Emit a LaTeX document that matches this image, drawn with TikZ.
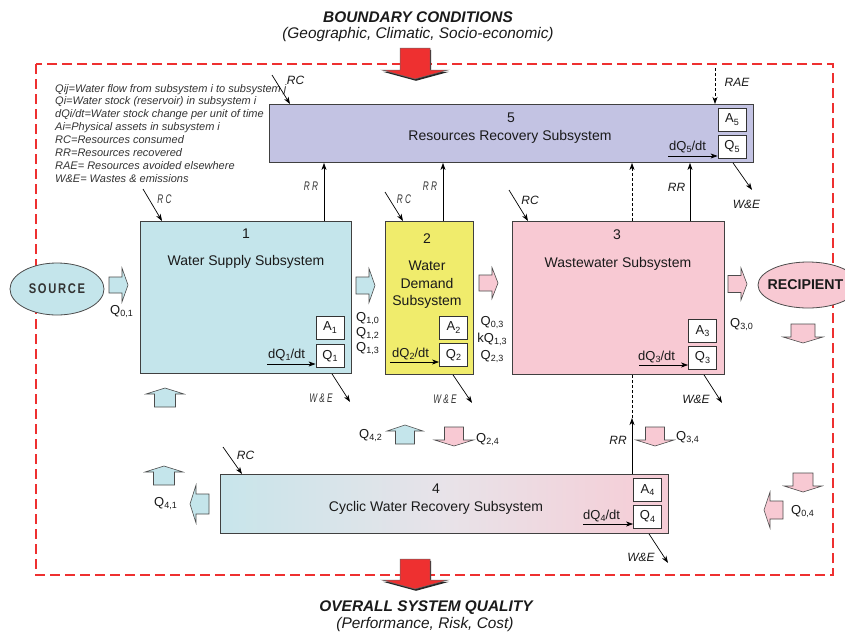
\documentclass[tikz,border=0pt]{standalone}
\usepackage{fontspec}
\setmainfont{Liberation Sans}
\setsansfont{Liberation Sans}
\newfontfamily\srcfont{Liberation Sans}[FakeStretch=0.8,LetterSpace=12]
\newfontfamily\condfont{Liberation Sans}[FakeStretch=0.66]
\usetikzlibrary{arrows.meta,calc,shapes.geometric}
\definecolor{cblue}{HTML}{C4E5EB}
\definecolor{cpink}{HTML}{F8C9D3}
\definecolor{cyel}{HTML}{F0EC6C}
\definecolor{clav}{HTML}{C3C3E3}
\definecolor{cred}{HTML}{EE3030}
\definecolor{ctxt}{HTML}{1A1A1A}
\definecolor{cleg}{HTML}{333333}
\colorlet{cmid}{cblue!50!cpink!70!white}
\pgfdeclarehorizontalshading{bluepink}{100bp}{color(0bp)=(cblue); color(22bp)=(cblue); color(50bp)=(cmid); color(78bp)=(cpink); color(100bp)=(cpink)}
\newcommand\blkarr[6]{\draw[blkst, fill=#4, shift={(#1,#2)}, rotate=#3] (0,-#5)--(13,-#5)--(13,-#6)--(19,0)--(13,#6)--(13,#5)--(0,#5)--cycle;}
\newcommand\sbs[1]{\raisebox{-0.35ex}{\fontsize{9}{10}\selectfont #1}}
\tikzset{
  box/.style={draw=black!75, line width=0.9pt, anchor=north west, inner sep=0pt},
  sbox/.style={draw=black!80, fill=white, line width=0.8pt, minimum width=28pt, minimum height=23pt, inner sep=0pt, font=\fontsize{13}{15}\selectfont, text=ctxt},
  arr/.style={draw=black, line width=0.7pt, -{Stealth[length=7pt,width=5pt,inset=2pt]}},
  dsh/.style={dash pattern=on 3pt off 2pt},
  lbl/.style={font=\fontsize{12}{14}\selectfont\itshape, text=ctxt, inner sep=0pt, anchor=base},
  clbl/.style={font=\condfont\fontsize{12.5}{14}\selectfont\itshape, text=cleg, inner sep=0pt, anchor=base},
  ttl/.style={font=\fontsize{14}{16}\selectfont, text=ctxt, inner sep=0pt, anchor=base},
  qlbl/.style={font=\fontsize{13}{15}\selectfont, text=ctxt, inner sep=0pt, anchor=base west},
  dlbl/.style={font=\fontsize{13}{15}\selectfont, text=ctxt, inner sep=0pt, anchor=base west},
  leg/.style={font=\fontsize{11}{13}\selectfont\itshape, text=cleg, inner sep=0pt, anchor=base west},
  head/.style={font=\fontsize{15.4}{18}\selectfont\itshape, text=ctxt, inner sep=0pt, anchor=base},
  blkst/.style={draw=black!70, line width=0.6pt},
  redarr/.style={fill=cred, draw=black!60, line width=0.5pt},
}
\begin{document}
\begin{tikzpicture}[x=1pt,y=-1pt]
\useasboundingbox (0,0) rectangle (845,635);
\fill[white] (0,0) rectangle (845,635);

% boundary
\draw[cred, line width=2.5pt, dash pattern=on 10pt off 5pt] (36,64) rectangle (833,575);

% red arrows
\fill[black!85, shift={(1,1.8)}] (400,48)--(430,48)--(430,70)--(448,70)--(415,79)--(382,70)--(400,70)--cycle;
\draw[redarr] (400,48)--(430,48)--(430,70)--(448,70)--(415,79)--(382,70)--(400,70)--cycle;
\fill[black!85, shift={(1,1.8)}] (400,559)--(430,559)--(430,580)--(448,580)--(415,589)--(382,580)--(400,580)--cycle;
\draw[redarr] (400,559)--(430,559)--(430,580)--(448,580)--(415,589)--(382,580)--(400,580)--cycle;

% titles
\node[head, font=\fontsize{15.4}{18}\selectfont\bfseries\itshape] (tbc) at (418,22) {BOUNDARY CONDITIONS};
\node[head] (tbc2) at (418,38.5) {(Geographic, Climatic, Socio-economic)};
\node[head, font=\fontsize{15.4}{18}\selectfont\bfseries\itshape] (tos) at (426,611) {OVERALL SYSTEM QUALITY};
\node[head] (tos2) at (425,628) {(Performance, Risk, Cost)};

% legend
\node[leg] (l1) at (55,92) {Qij=Water flow from subsystem i to subsystem j};
\node[leg] (l2) at (55,104.9) {Qi=Water stock (reservoir) in subsystem i};
\node[leg] (l3) at (55,117.8) {dQi/dt=Water stock change per unit of time};
\node[leg] (l4) at (55,130.7) {Ai=Physical assets in subsystem i};
\node[leg] (l5) at (55,143.6) {RC=Resources consumed};
\node[leg] (l6) at (55,156.5) {RR=Resources recovered};
\node[leg] (l7) at (55,169.4) {RAE= Resources avoided elsewhere};
\node[leg] (l8) at (55,182.3) {W\&E= Wastes \& emissions};

% main boxes
\node[box, fill=clav, minimum width=484pt, minimum height=58pt] (b5) at (269,104) {};
\node[box, fill=cblue, minimum width=211pt, minimum height=152pt] (b1) at (140,221) {};
\node[box, fill=cyel, minimum width=88pt, minimum height=153pt] (b2) at (385,221) {};
\node[box, fill=cpink, minimum width=212pt, minimum height=153pt] (b3) at (512,221) {};
\node[box, shade, shading=bluepink, minimum width=448pt, minimum height=59pt] (b4) at (220,474) {};

% box texts
\node[ttl] (n5) at (511,122) {5};
\node[ttl] (t5) at (510,140) {Resources Recovery Subsystem};
\node[ttl] (n1) at (246,238) {1};
\node[ttl] (t1) at (246,265) {Water Supply Subsystem};
\node[ttl] (n2) at (427,243) {2};
\node[ttl] (t2a) at (427,270) {Water};
\node[ttl] (t2b) at (427,288) {Demand};
\node[ttl] (t2c) at (427,305) {Subsystem};
\node[ttl] (n3) at (617,239) {3};
\node[ttl] (t3) at (618,267) {Wastewater Subsystem};
\node[ttl] (n4) at (436,493) {4};
\node[ttl] (t4) at (436,511) {Cyclic Water Recovery Subsystem};

% small boxes
\node[sbox] (A5) at (732,119.5) {A\sbs{5}};
\node[sbox] (Q5) at (732,146.5) {Q\sbs{5}};
\node[sbox] (A1) at (330,327.5) {A\sbs{1}};
\node[sbox] (Q1) at (330,356) {Q\sbs{1}};
\node[sbox] (A2) at (453.5,327.5) {A\sbs{2}};
\node[sbox] (Q2) at (453.5,355) {Q\sbs{2}};
\node[sbox] (A3) at (702.5,331) {A\sbs{3}};
\node[sbox] (Q3) at (702.5,357.5) {Q\sbs{3}};
\node[sbox] (A4) at (647.5,490) {A\sbs{4}};
\node[sbox] (Q4) at (647.5,516.5) {Q\sbs{4}};

% dQ/dt labels and arrows
\node[dlbl] (dq5) at (669,150) {dQ\sbs{5}/dt};
\node[dlbl] (dq1) at (268,358) {dQ\sbs{1}/dt};
\node[dlbl] (dq2) at (392,357) {dQ\sbs{2}/dt};
\node[dlbl] (dq3) at (638,360) {dQ\sbs{3}/dt};
\node[dlbl] (dq4) at (583,519) {dQ\sbs{4}/dt};
\coordinate (d5) at (668,156);
\coordinate (d1) at (267,364);
\coordinate (d2) at (390,362);
\coordinate (d3) at (639,365);
\coordinate (d4) at (583,524);
\draw[arr] (d5) -- (d5 -| Q5.west);
\draw[arr] (d1) -- (d1 -| Q1.west);
\draw[arr] (d2) -- (d2 -| Q2.west);
\draw[arr] (d3) -- (d3 -| Q3.west);
\draw[arr] (d4) -- (d4 -| Q4.west);

% source / recipient
\node[ellipse, draw=black!70, line width=0.8pt, fill=cblue, minimum width=94pt, minimum height=52pt, inner sep=0pt, font=\srcfont\bfseries\fontsize{14}{16}\selectfont, text=cleg] (src) at (57,289) {SOURCE};
\node[ellipse, draw=black!70, line width=0.8pt, fill=cpink, minimum width=100pt, minimum height=46pt, inner sep=0pt] (rcp) at (808,285) {};
\node[font=\bfseries\fontsize{14.2}{17}\selectfont, text=ctxt, inner sep=0pt] (rcpt) at (805.5,285) {RECIPIENT};

% block arrows
\blkarr{109}{285}{0}{cblue}{8}{17}
\blkarr{356}{285.5}{0}{cblue}{8.5}{17}
\blkarr{479}{283}{0}{cpink}{8}{15.5}
\blkarr{728}{284}{0}{cpink}{8.5}{16}
\blkarr{165}{407}{90}{cblue}{10.5}{19}
\blkarr{164}{485}{90}{cblue}{10.5}{19}
\blkarr{405}{444}{90}{cblue}{9.5}{18}
\blkarr{454}{427}{-90}{cpink}{9.5}{19.5}
\blkarr{655}{427}{-90}{cpink}{9.5}{19}
\blkarr{803}{324}{-90}{cpink}{12}{20}
\blkarr{803}{473}{-90}{cpink}{10}{19}
\blkarr{209}{504}{180}{cblue}{10}{19}
\blkarr{783}{510}{180}{cpink}{9}{18}

% flow labels
\node[qlbl] (q01) at (110,314) {Q\sbs{0,1}};
\node[qlbl] (q10) at (356,321) {Q\sbs{1,0}};
\node[qlbl] (q12) at (356,336) {Q\sbs{1,2}};
\node[qlbl] (q13) at (356,351) {Q\sbs{1,3}};
\node[qlbl, anchor=base] (q03) at (492,325) {Q\sbs{0,3}};
\node[qlbl, anchor=base] (kq13) at (492,342) {kQ\sbs{1,3}};
\node[qlbl, anchor=base] (q23) at (492,359) {Q\sbs{2,3}};
\node[qlbl] (q30) at (730,327) {Q\sbs{3,0}};
\node[qlbl] (q41) at (154,506) {Q\sbs{4,1}};
\node[qlbl] (q42) at (359,438) {Q\sbs{4,2}};
\node[qlbl] (q24) at (476,442) {Q\sbs{2,4}};
\node[qlbl] (q34) at (676,440) {Q\sbs{3,4}};
\node[qlbl] (q04) at (791,514) {Q\sbs{0,4}};

% RC arrows
\coordinate (rc5s) at (272,75);
\coordinate (rc1s) at (143,189);
\coordinate (rc2s) at (385,192);
\coordinate (rc3s) at (509,190);
\coordinate (rc4s) at (223,447);
\draw[arr] (rc5s) -- ($(b5.north west)+(21,0)$);
\draw[arr] (rc1s) -- ($(b1.north west)+(22,0)$);
\draw[arr] (rc2s) -- ($(b2.north west)+(18,0)$);
\draw[arr] (rc3s) -- ($(b3.north west)+(16,0)$);
\draw[arr] (rc4s) -- ($(b4.north west)+(22,0)$);
\node[lbl] (lrc5) at (295.5,84.5) {RC};
\node[clbl] (lrc1) at (164.5,203) {R C};
\node[clbl] (lrc2) at (404,203) {R C};
\node[lbl] (lrc3) at (530,204) {RC};
\node[lbl] (lrc4) at (245.5,459) {RC};

% RAE
\coordinate (raes) at (715,68);
\draw[arr, dsh] (raes) -- (raes |- b5.north);
\node[lbl] (lrae) at (737,86) {RAE};

% RR arrows
\draw[arr] ($(b1.north west)+(184,0)$) coordinate (rr1) -- (rr1 |- b5.south);
\draw[arr] ($(b2.north west)+(58,0)$) coordinate (rr2) -- (rr2 |- b5.south);
\draw[arr] ($(b3.north west)+(178,0)$) coordinate (rr3) -- (rr3 |- b5.south);
\draw[arr, dsh] ($(b3.north west)+(120,0)$) coordinate (rr3d) -- (rr3d |- b5.south);
\draw[arr] ($(b4.north west)+(412,0)$) coordinate (rr4) -- ++(0,-56) coordinate (rr4e);
\draw[dsh, line width=0.7pt] (rr4e) -- (rr4e |- b3.south);
\node[clbl] (lrr1) at (311,190) {R R};
\node[clbl] (lrr2) at (430,190) {R R};
\node[lbl] (lrr3) at (676.5,191) {RR};
\node[lbl] (lrr4) at (618,444) {RR};

% W&E arrows
\draw[arr] ($(b5.south west)+(464,0)$) -- ++(19,27) coordinate (we5);
\draw[arr] ($(b1.south west)+(192,0)$) -- ++(18,28) coordinate (we1);
\draw[arr] ($(b2.south west)+(68,0)$) -- ++(19,28) coordinate (we2);
\draw[arr] ($(b3.south west)+(192,0)$) -- ++(18,28) coordinate (we3);
\draw[arr] ($(b4.south west)+(429,0)$) -- ++(19,29) coordinate (we4);
\node[lbl] (lwe5) at (746.5,208) {W\&E};
\node[clbl] (lwe1) at (321,402) {W \& E};
\node[clbl] (lwe2) at (445,403) {W \& E};
\node[lbl] (lwe3) at (696,403) {W\&E};
\node[lbl] (lwe4) at (641,561) {W\&E};
\end{tikzpicture}
\end{document}
